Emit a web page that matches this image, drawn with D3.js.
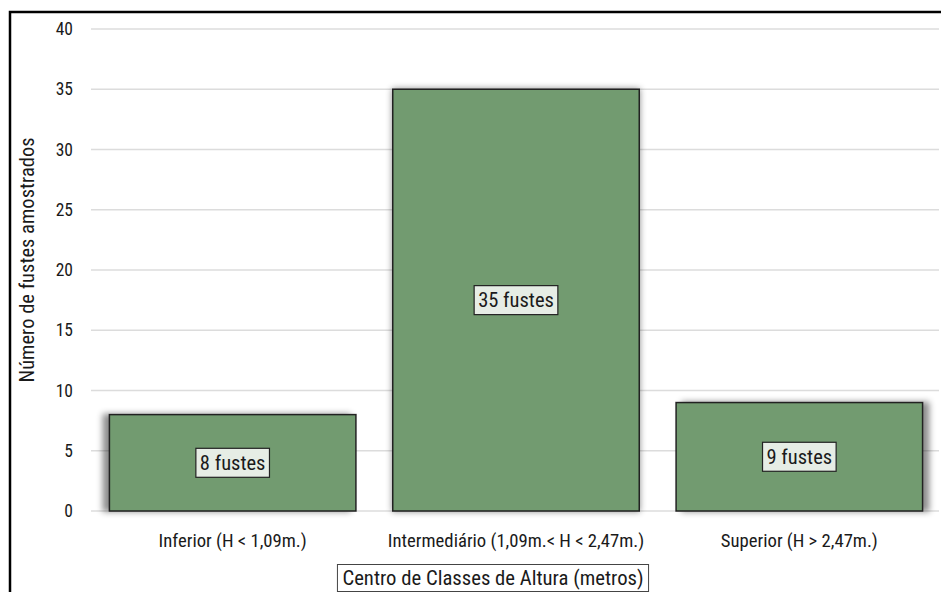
<!DOCTYPE html>
<html>
<head>
<meta charset="utf-8">
<script src="https://cdn.jsdelivr.net/npm/d3@7"></script>
<style>
  html, body { margin: 0; padding: 0; background: #fff; }
  svg { display: block; }
  text { font-family: "Liberation Sans Narrow", "Roboto Condensed", "Arial Narrow", Roboto, sans-serif; fill: #1a1a1a; }
</style>
</head>
<body>
<script>
// Height classes and the number of sampled stems in each
const categories = ["Inferior (H < 1,09m.)", "Intermediário (1,09m.< H < 2,47m.)", "Superior (H > 2,47m.)"];
const counts = [8, 35, 9];
const yTicks = [0, 5, 10, 15, 20, 25, 30, 35, 40];
const yTitle = "Número de fustes amostrados";
const xTitle = "Centro de Classes de Altura (metros)";
const labelSuffix = " fustes";

const W = 941, H = 592;
const margin = { left: 91, right: 0, top: 29, bottom: 81 };

const svg = d3.select("body").append("svg").attr("width", W).attr("height", H);

// Outer frame (only the top and left edges fall inside the view)
svg.append("rect")
  .attr("x", 10).attr("y", 12).attr("width", W + 20).attr("height", H + 20)
  .attr("fill", "none").attr("stroke", "#000").attr("stroke-width", 2.5);

const x = d3.scaleBand()
  .domain(categories)
  .range([margin.left, W - margin.right])
  .paddingInner(0.13)
  .paddingOuter(0.065);

const y = d3.scaleLinear()
  .domain([0, 40])
  .range([H - margin.bottom, margin.top]);

// Gridlines
svg.append("g")
  .selectAll("line")
  .data(yTicks)
  .join("line")
  .attr("x1", margin.left).attr("x2", W - 2)
  .attr("y1", d => y(d)).attr("y2", d => y(d))
  .attr("stroke", "#dcdcdc").attr("stroke-width", 1.5);

// Y axis tick labels
const yAxis = d3.axisLeft(y).tickValues(yTicks).tickSize(0).tickPadding(0);
const gy = svg.append("g").attr("transform", "translate(73,0)").call(yAxis);
gy.select(".domain").remove();
gy.selectAll("text").attr("font-size", 17.5).attr("fill", "#1a1a1a")
  .style("font-family", null);

// Soft drop shadows, cast outward from the chart centre
const defs = svg.append("defs");
const shadowDx = [-6, 0, 6];
shadowDx.forEach((dx, i) => {
  const f = defs.append("filter").attr("id", "shadow" + i)
    .attr("x", "-20%").attr("y", "-20%").attr("width", "140%").attr("height", "140%");
  f.append("feDropShadow")
    .attr("dx", dx).attr("dy", 0).attr("stdDeviation", 3)
    .attr("flood-color", "#000").attr("flood-opacity", 0.45);
});

// Bars
svg.append("g")
  .selectAll("rect")
  .data(counts)
  .join("rect")
  .attr("x", (d, i) => x(categories[i]))
  .attr("y", d => y(d))
  .attr("width", x.bandwidth())
  .attr("height", d => y(0) - y(d))
  .attr("fill", "#729b70")
  .attr("stroke", "#222")
  .attr("stroke-width", 1.5)
  .attr("filter", (d, i) => `url(#shadow${i})`);

// Value labels in boxes at each bar's mid-height
const labels = svg.append("g")
  .selectAll("g")
  .data(counts)
  .join("g")
  .attr("transform", (d, i) => `translate(${x(categories[i]) + x.bandwidth() / 2},${y(d / 2)})`);

labels.append("text")
  .attr("text-anchor", "middle")
  .attr("dy", "0.35em")
  .attr("font-size", 20.5)
  .text(d => d + labelSuffix);

labels.each(function() {
  const g = d3.select(this);
  const bb = g.select("text").node().getBBox();
  g.insert("rect", "text")
    .attr("x", bb.x - 4).attr("y", -14.5)
    .attr("width", bb.width + 8).attr("height", 29)
    .attr("fill", "#e6ede5").attr("stroke", "#222").attr("stroke-width", 1.2);
});

// Category labels
svg.append("g")
  .selectAll("text")
  .data(categories)
  .join("text")
  .attr("x", d => x(d) + x.bandwidth() / 2)
  .attr("y", 547)
  .attr("text-anchor", "middle")
  .attr("font-size", 18.7)
  .text(d => d);

// X axis title in a box
const xt = svg.append("g").attr("transform", `translate(${(margin.left + W) / 2 - 23},578)`);
xt.append("text")
  .attr("text-anchor", "middle").attr("dy", "0.35em")
  .attr("font-size", 20.7)
  .text(xTitle);
const xbb = xt.select("text").node().getBBox();
xt.insert("rect", "text")
  .attr("x", xbb.x - 5).attr("y", -13.5)
  .attr("width", xbb.width + 10).attr("height", 27)
  .attr("fill", "#fff").attr("stroke", "#444").attr("stroke-width", 1);

// Y axis title
svg.append("text")
  .attr("transform", `translate(34,${(y(0) + y(40)) / 2 - 10}) rotate(-90)`)
  .attr("text-anchor", "middle")
  .attr("font-size", 20.5)
  .text(yTitle);
</script>
</body>
</html>
